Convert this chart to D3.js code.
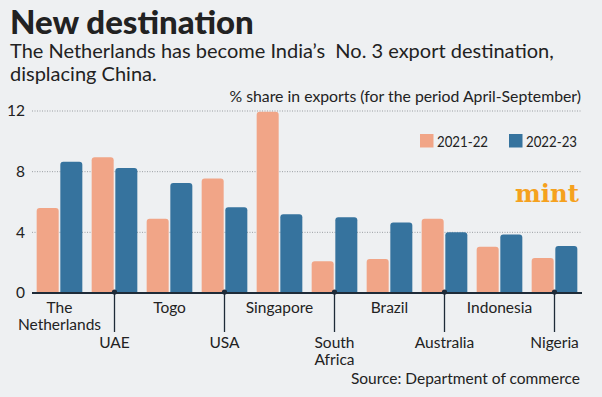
<!DOCTYPE html>
<html>
<head>
<meta charset="utf-8">
<script src="https://cdn.jsdelivr.net/npm/d3@7"></script>
<style>
html, body { margin: 0; padding: 0; background: #eef0f2; }
svg { display: block; font-family: Lato, "Noto Sans", sans-serif; }
</style>
</head>
<body>
<script>
// chart values
var countries = ["The Netherlands", "UAE", "Togo", "USA", "Singapore", "South Africa", "Brazil", "Australia", "Indonesia", "Nigeria"];
var countryLines = [["The", "Netherlands"], ["UAE"], ["Togo"], ["USA"], ["Singapore"], ["South", "Africa"], ["Brazil"], ["Australia"], ["Indonesia"], ["Nigeria"]];
var share2122 = [5.6, 8.95, 4.9, 7.55, 11.95, 2.1, 2.25, 4.9, 3.05, 2.3];
var share2223 = [8.65, 8.25, 7.25, 5.65, 5.2, 5.0, 4.65, 4.0, 3.85, 3.1];
var seriesNames = ["2021-22", "2022-23"];
var yTicks = [0, 4, 8, 12];

var width = 602, height = 397;
var dark = "#1e2b38";

var svg = d3.select("body").append("svg")
  .attr("width", width)
  .attr("height", height);

svg.append("rect").attr("width", width).attr("height", height).attr("fill", "#eef0f2");

// titles
svg.append("text").attr("x", 10).attr("y", 34)
  .attr("font-size", 33).attr("font-weight", 900).attr("fill", "#222")
  .text("New destination");
svg.append("text").attr("x", 10).attr("y", 58)
  .attr("font-size", 20).attr("fill", "#222")
  .style("white-space", "pre")
  .text("The Netherlands has become India\u2019s  No. 3 export destination,");
svg.append("text").attr("x", 10).attr("y", 81)
  .attr("font-size", 20).attr("fill", "#222")
  .text("displacing China.");
svg.append("text").attr("x", 581).attr("y", 102)
  .attr("text-anchor", "end").attr("font-size", 15.8).attr("fill", "#222")
  .text("% share in exports (for the period April-September)");

// scales
var x = d3.scaleBand().domain(countries).range([32, 582]).paddingInner(0.17).paddingOuter(0.085);
var xs = d3.scaleBand().domain(seriesNames).range([0, x.bandwidth()]).padding(0.07).paddingOuter(0);
var y = d3.scaleLinear().domain([0, 12]).range([293, 111]);
var color = d3.scaleOrdinal().domain(seriesNames).range(["#f1a587", "#36739e"]);

// grid
svg.append("g").selectAll("line").data(yTicks.filter(function(d){ return d > 0; })).enter()
  .append("line")
  .attr("x1", 32).attr("x2", 582)
  .attr("y1", function(d){ return y(d); }).attr("y2", function(d){ return y(d); })
  .attr("stroke", "#9a9ea3").attr("stroke-width", 1).attr("stroke-dasharray", "1,1.5");

// y axis labels
var yAxis = d3.axisLeft(y).tickValues(yTicks).tickSize(0).tickPadding(0);
var ya = svg.append("g").attr("transform", "translate(25,0)").call(yAxis);
ya.select(".domain").remove();
ya.selectAll("text").attr("font-size", 15.5).attr("fill", "#222").attr("font-family", "Lato, 'Noto Sans', sans-serif");

// bars with rounded tops
var topRounded = function(bx, by, w, h, r){
  r = Math.min(r, h);
  return "M" + bx + "," + (by + h) +
    "V" + (by + r) +
    "Q" + bx + "," + by + " " + (bx + r) + "," + by +
    "H" + (bx + w - r) +
    "Q" + (bx + w) + "," + by + " " + (bx + w) + "," + (by + r) +
    "V" + (by + h) + "Z";
};

var rows = countries.map(function(c, i){
  return { country: c, values: [ { s: seriesNames[0], v: share2122[i] }, { s: seriesNames[1], v: share2223[i] } ] };
});

var groups = svg.append("g").selectAll("g").data(rows).enter()
  .append("g")
  .attr("transform", function(d){ return "translate(" + x(d.country) + ",0)"; });

groups.selectAll("path").data(function(d){ return d.values; }).enter()
  .append("path")
  .attr("d", function(d){ return topRounded(xs(d.s), y(d.v), xs.bandwidth(), y(0) - y(d.v), 3); })
  .attr("fill", function(d){ return color(d.s); });

// baseline
svg.append("line").attr("x1", 32).attr("x2", 582).attr("y1", y(0)).attr("y2", y(0))
  .attr("stroke", dark).attr("stroke-width", 2);

// category labels, alternating up / down with leader lines
countries.forEach(function(c, i){
  var cx = x(c) + x.bandwidth() / 2;
  var lines = countryLines[i];
  var top = 313;
  if (i % 2 === 1) {
    top = 348;
    svg.append("line").attr("x1", cx).attr("x2", cx).attr("y1", y(0)).attr("y2", 332)
      .attr("stroke", dark).attr("stroke-width", 1.3);
    svg.append("circle").attr("cx", cx).attr("cy", y(0) - 1).attr("r", 2.6).attr("fill", dark);
  }
  var t = svg.append("text").attr("text-anchor", "middle").attr("font-size", 15.5).attr("fill", "#222");
  lines.forEach(function(l, k){
    t.append("tspan").attr("x", cx).attr("y", top + k * 16.5).text(l);
  });
});

// legend
var legend = svg.append("g").selectAll("g").data(seriesNames).enter()
  .append("g")
  .attr("transform", function(d, i){ return "translate(" + (420 + i * 89) + ",134)"; });
legend.append("rect").attr("width", 13.5).attr("height", 13.5).attr("fill", function(d){ return color(d); });
legend.append("text").attr("x", 17).attr("y", 12.5).attr("font-size", 15).attr("fill", "#222")
  .attr("textLength", 51).attr("lengthAdjust", "spacingAndGlyphs")
  .text(function(d){ return d; });

// logo
svg.append("text").attr("x", 515).attr("y", 202)
  .attr("font-family", "'DejaVu Serif', serif").attr("font-weight", "bold").attr("font-size", 24)
  .attr("fill", "#f5a11e")
  .attr("textLength", 64).attr("lengthAdjust", "spacingAndGlyphs")
  .text("mint");

// source
svg.append("text").attr("x", 580).attr("y", 384).attr("text-anchor", "end")
  .attr("font-size", 15.5).attr("fill", "#222")
  .text("Source: Department of commerce");
</script>
</body>
</html>
